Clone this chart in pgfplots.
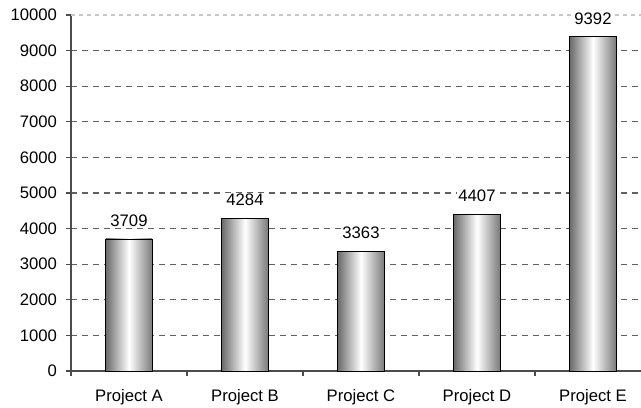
\documentclass[border=0pt]{standalone}
\usepackage{fontspec}
\setmainfont{Liberation Sans}
\usepackage{pgfplots}
\pgfplotsset{compat=1.18}
\usetikzlibrary{calc}

% one cylinder-like bar: horizontal grey-white-grey shading
\pgfplotsset{
  shadedbar/.style={draw=black, line width=0.6pt, bar shift=0pt,
    left color=black!58, right color=black!52, middle color=white},
}

\begin{document}
\begin{tikzpicture}
\begin{axis}[
  scale only axis,
  width=427.5pt, height=267pt,
  xmin=-0.5, xmax=4.414,
  ymin=0, ymax=10000,
  axis x line=bottom, axis y line=left,
  axis line style={-, black!70, line width=0.8pt},
  xtick={0,1,2,3,4},
  xticklabels={Project A,Project B,Project C,Project D,Project E},
  major x tick style={draw=none},
  minor xtick={-0.5,0.5,1.5,2.5,3.5},
  minor x tick style={black!70, line width=0.8pt},
  ytick={0,1000,...,9000},
  extra y ticks={10000},
  extra y tick style={grid style={dashed, black!22, line width=0.8pt}},
  scaled y ticks=false,
  ymajorgrids,
  grid style={dash pattern=on 4.5pt off 3.75pt, black!62, line width=0.8pt},
  tick align=outside,
  y tick style={black!70, line width=0.8pt},
  major tick length=4pt, minor tick length=4pt,
  ticklabel style={font=\fontsize{12.5}{14}\selectfont},
  y tick label style={xshift=-3pt},
  x tick label style={yshift=-6.5pt},
  /pgf/number format/assume math mode=true,
  /pgf/number format/1000 sep={},
  ybar, bar width=0.4,
  nodes near coords,
  every node near coord/.append style={
    font=\fontsize{12.5}{14}\selectfont, fill=white,
    inner sep=1pt, anchor=south, yshift=8pt,
    /pgf/number format/assume math mode=true},
]
\addplot[shadedbar] coordinates {(0,3709)};
\addplot[shadedbar] coordinates {(1,4284)};
\addplot[shadedbar] coordinates {(2,3363)};
\addplot[shadedbar] coordinates {(3,4407)};
\addplot[shadedbar] coordinates {(4,9392)};
\end{axis}
\pgfresetboundingbox
\path ($(current axis.south west)+(-53.25pt,-27pt)$)
  rectangle ($(current axis.north east)+(0pt,11.25pt)$);
\end{tikzpicture}
\end{document}
